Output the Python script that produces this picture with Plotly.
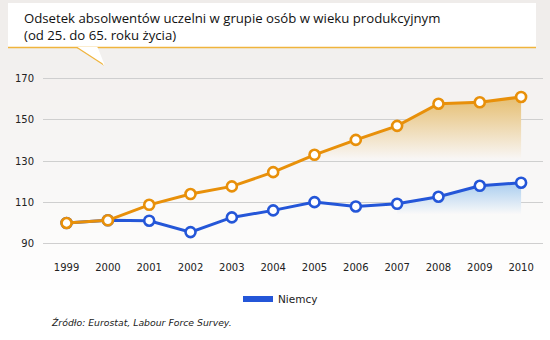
import plotly.graph_objects as go

years = [1999, 2000, 2001, 2002, 2003, 2004, 2005, 2006, 2007, 2008, 2009, 2010]
polska = [100, 101.3, 108.8, 114, 117.7, 124.6, 133, 140.2, 147, 157.7, 158.4, 161]
niemcy = [100, 101.3, 101.1, 95.6, 102.7, 106.1, 110.1, 108, 109.3, 112.7, 118, 119.5]
y_ticks = [90, 110, 130, 150, 170]

title_text = "Odsetek absolwentów uczelni w grupie osób w wieku produkcyjnym<br>(od 25. do 65. roku życia)"
source_text = "<i>Źródło: Eurostat, Labour Force Survey.</i>"
legend_name = "Niemcy"

ORANGE = "#e8900a"
BLUE = "#2456d8"

W, H = 550, 340
L, R, T, B = 43, 7, 68, 86
PW, PH = W - L - R, H - T - B


def px(x):
    return (x - L) / PW


def py(y):
    return (H - B - y) / PH


def lerp(c1, c2, t):
    return tuple(round(a + (b - a) * t) for a, b in zip(c1, c2))


TOP = (239, 236, 234)
BOT = (255, 255, 255)


def bg_at(ypix):
    t = min(max((ypix - 0) / 300, 0), 1)
    return lerp(TOP, BOT, t)


def rgb(c):
    return "rgb(%d,%d,%d)" % c


shapes = []
# background gradient strips
N = 34
for i in range(N):
    y0 = i * H / N
    y1 = (i + 1) * H / N + 0.6
    shapes.append(dict(type="rect", xref="paper", yref="paper",
                       x0=px(-5), x1=px(W + 5), y0=py(y1), y1=py(y0),
                       fillcolor=rgb(bg_at((y0 + y1) / 2)), line_width=0, layer="below"))
# title box
shapes.append(dict(type="rect", xref="paper", yref="paper",
                   x0=px(8), x1=px(536), y0=py(47), y1=py(3),
                   fillcolor="white", line_width=0, layer="below"))
shapes.append(dict(type="line", xref="paper", yref="paper",
                   x0=px(8), x1=px(536), y0=py(47.5), y1=py(47.5),
                   line=dict(color="#f0b43c", width=1.5), layer="below"))
# callout tail
shapes.append(dict(type="path", xref="paper", yref="paper",
                   path="M %f,%f L %f,%f L %f,%f Z" % (px(77), py(47), px(104), py(65), px(97), py(47)),
                   fillcolor="white", line_width=0, layer="below"))
shapes.append(dict(type="line", xref="paper", yref="paper",
                   x0=px(77), y0=py(47.5), x1=px(104), y1=py(65),
                   line=dict(color="#f0b43c", width=1.2), layer="below"))
shapes.append(dict(type="line", xref="paper", yref="paper",
                   x0=px(97), y0=py(47.5), x1=px(104), y1=py(65),
                   line=dict(color="white", width=1.2), layer="below"))

fig = go.Figure()

# gradient fill under orange line
o_base = 131
o_idx = [i for i, y in enumerate(years) if y >= 2005]
fig.add_trace(go.Scatter(x=[years[i] for i in o_idx], y=[o_base] * len(o_idx),
                         mode="lines", line=dict(width=0), showlegend=False, hoverinfo="skip"))
fig.add_trace(go.Scatter(x=[years[i] for i in o_idx], y=[polska[i] for i in o_idx],
                         mode="lines", line=dict(width=0), fill="tonexty",
                         fillgradient=dict(type="vertical", start=o_base, stop=162,
                                           colorscale=[[0, rgb(bg_at(160))], [1, "rgb(229,188,108)"]]),
                         showlegend=False, hoverinfo="skip"))
# gradient fill under blue line
b_base = 104
b_idx = [i for i, y in enumerate(years) if y >= 2007]
fig.add_trace(go.Scatter(x=[years[i] for i in b_idx], y=[b_base] * len(b_idx),
                         mode="lines", line=dict(width=0), showlegend=False, hoverinfo="skip"))
fig.add_trace(go.Scatter(x=[years[i] for i in b_idx], y=[niemcy[i] for i in b_idx],
                         mode="lines", line=dict(width=0), fill="tonexty",
                         fillgradient=dict(type="vertical", start=b_base, stop=121,
                                           colorscale=[[0, rgb(bg_at(216))], [1, "rgb(160,200,238)"]]),
                         showlegend=False, hoverinfo="skip"))

marker_style = dict(symbol="circle", size=10, color="white")
fig.add_trace(go.Scatter(x=years, y=niemcy, mode="lines+markers", name=legend_name,
                         line=dict(color=BLUE, width=3),
                         marker=dict(**marker_style, line=dict(color=BLUE, width=2.6)),
                         showlegend=False))
fig.add_trace(go.Scatter(x=years, y=polska, mode="lines+markers", name="Polska",
                         line=dict(color=ORANGE, width=3),
                         marker=dict(**marker_style, line=dict(color=ORANGE, width=2.6)),
                         showlegend=False))
# legend entry
fig.add_trace(go.Scatter(x=[None], y=[None], mode="lines", name=legend_name,
                         line=dict(color=BLUE, width=6), showlegend=True))

fig.add_annotation(text=title_text, xref="paper", yref="paper", x=px(22), y=py(7),
                   xanchor="left", yanchor="top", showarrow=False, align="left",
                   font=dict(family="Open Sans", size=13.2, color="#111"))
fig.add_annotation(text=source_text, xref="paper", yref="paper", x=px(49), y=py(322),
                   xanchor="left", yanchor="middle", showarrow=False,
                   font=dict(family="DejaVu Sans", size=9.3, color="#222"))

fig.update_layout(
    width=W, height=H,
    margin=dict(l=L, r=R, t=T, b=B, pad=0),
    paper_bgcolor="white", plot_bgcolor="rgba(0,0,0,0)",
    shapes=shapes,
    font=dict(family="DejaVu Sans", size=10, color="#222"),
    showlegend=True,
    legend=dict(x=px(238), y=py(299), xanchor="left", yanchor="middle",
                bgcolor="rgba(0,0,0,0)", font=dict(size=10.5, family="DejaVu Sans"),
                itemwidth=30),
    xaxis=dict(range=[1998.43, 2010.53], tickvals=years, ticktext=[str(y) for y in years],
               showgrid=False, zeroline=False, showline=False, ticks="", ticklabelstandoff=6,
               fixedrange=True),
    yaxis=dict(range=[85, 175], tickvals=y_ticks, showgrid=True, gridcolor="#cfcfcf", gridwidth=1,
               zeroline=False, showline=False, ticks="", ticklabelstandoff=8, fixedrange=True),
)

fig.write_html("out.html")
